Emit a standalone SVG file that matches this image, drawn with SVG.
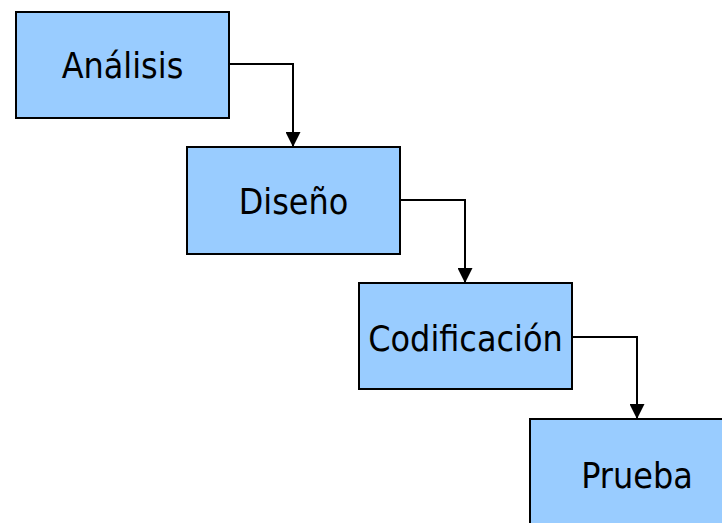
<svg xmlns="http://www.w3.org/2000/svg" width="722" height="523" viewBox="0 0 722 523">
  <style>
    .box { fill: #99ccff; stroke: #000; stroke-width: 2; }
    .label { font-family: "DejaVu Sans Condensed", "DejaVu Sans", sans-serif; font-size: 35.5px; fill: #000; text-anchor: middle; }
    .link { fill: none; stroke: #000; stroke-width: 2; marker-end: url(#arrow); }
  </style>
  <defs>
    <marker id="arrow" viewBox="0 0 15 15" refX="15" refY="7.5" markerWidth="15" markerHeight="15" markerUnits="userSpaceOnUse" orient="auto">
      <path d="M0,0 L15,7.5 L0,15 Z" fill="#000"/>
    </marker>
  </defs>
  <rect width="722" height="523" fill="#fff"/>

  <g id="connectors">
    <path class="link" d="M229,64 H293 V147"/>
    <path class="link" d="M400,200 H465 V283"/>
    <path class="link" d="M572,337 H637 V419"/>
  </g>

  <g id="analisis">
    <rect class="box" x="16" y="12" width="213" height="106"/>
    <text class="label" x="122.5" y="78">Análisis</text>
  </g>
  <g id="diseno">
    <rect class="box" x="187" y="147" width="213" height="107"/>
    <text class="label" x="293.5" y="214">Diseño</text>
  </g>
  <g id="codificacion">
    <rect class="box" x="359" y="283" width="213" height="106"/>
    <text class="label" x="465.5" y="351">Codificación</text>
  </g>
  <g id="prueba">
    <rect class="box" x="530" y="419" width="213" height="106"/>
    <text class="label" x="637" y="488">Prueba</text>
  </g>
</svg>
